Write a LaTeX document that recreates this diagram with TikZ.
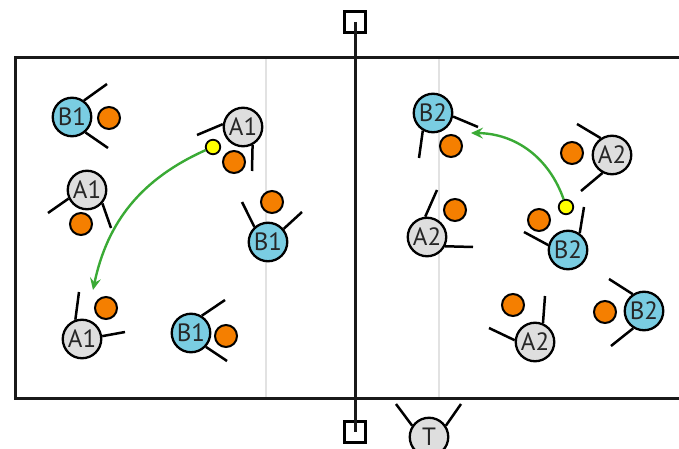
\documentclass[tikz,border=0pt]{standalone}
\usepackage{fontspec}
\setmainfont{PT Sans}
\usetikzlibrary{arrows.meta}
\definecolor{pblue}{RGB}{122,205,226}
\definecolor{pgrey}{RGB}{222,222,222}
\definecolor{borange}{RGB}{245,127,0}
\definecolor{byellow}{RGB}{255,255,0}
\definecolor{pgreen}{RGB}{58,170,53}
\definecolor{attack}{RGB}{226,226,226}
\begin{document}
\begin{tikzpicture}[x=1pt,y=-1pt,
  player/.style={circle,draw=black,line width=2.3pt,minimum size=38.5pt,inner sep=0pt,
    font=\fontsize{25}{25}\selectfont,text=black!85},
  pA/.style={player,fill=pgrey},
  pB/.style={player,fill=pblue},
  ball/.style={circle,draw=black,line width=2pt,fill=borange,minimum size=22pt,inner sep=0pt},
  yball/.style={circle,draw=black,line width=1.8pt,fill=byellow,minimum size=14.5pt,inner sep=0pt},
  arm/.style={line width=2.5pt,draw=black},
  pass/.style={draw=pgreen,line width=2.4pt,-{Stealth[length=12pt,width=11pt,inset=4.5pt]}},
  court/.style={line width=3pt,draw=black!90},
  attackline/.style={line width=1.6pt,draw=attack},
  post/.style={rectangle,draw=black,line width=2.6pt,fill=white,minimum size=21.5pt,inner sep=0pt}]
\useasboundingbox (0,0) rectangle (679,449);
\clip (0,0) rectangle (679,449);
% court
\draw[attackline] (266,58) -- (266,398);
\draw[attackline] (439,58) -- (439,398);
\draw[court] (15,58) rectangle (720,398);
% net
\node[post] (ptop) at (355,22) {};
\node[post] (pbot) at (355,432) {};
\draw[court] (ptop.center) -- (pbot.center);
% ---- left half ----
\node[pB] (p1) at (72,117) {B1};
\node[ball] (k1) at (109,118) {};
\draw[arm] (p1.54) -- (107,84);
\draw[arm] (p1.-49) -- (108,148);

\node[pA] (p2) at (243,127) {A1};
\node[ball] (k2) at (234,162) {};
\node[yball] (y1) at (213,147) {};
\draw[arm] (p2.172) -- (197,135);
\draw[arm] (p2.-62) -- (252,171);

\node[pA] (p3) at (87,190) {A1};
\node[ball] (k3) at (81,224) {};
\draw[arm] (p3.205) -- (48,213);
\draw[arm] (p3.-41) -- (111,228);

\node[pB] (p4) at (268,242) {B1};
\node[ball] (k4) at (272,202) {};
\draw[arm] (p4.132) -- (242,202);
\draw[arm] (p4.40) -- (302,212);

\node[pA] (p5) at (82,339) {A1};
\node[ball] (k5) at (106,308) {};
\draw[arm] (p5.109) -- (79,292);
\draw[arm] (p5.8) -- (125,332);

\node[pB] (p6) at (191,333) {B1};
\node[ball] (k6) at (226,336) {};
\draw[arm] (p6.58) -- (225,300);
\draw[arm] (p6.-43) -- (227,361);

\coordinate (t1) at (93,290);
\draw[pass] (y1) to[bend right=27] (t1);
% ---- right half ----
\node[pB] (p7) at (433,113) {B2};
\node[ball] (k7) at (451,146) {};
\draw[arm] (p7.-10) -- (478,127);
\draw[arm] (p7.240) -- (419,158);

\node[pA] (p8) at (612,155) {A2};
\node[ball] (k8) at (572,153) {};
\draw[arm] (p8.124) -- (577,124);
\draw[arm] (p8.242) -- (581,191);

\node[pB] (p9) at (568,250) {B2};
\node[ball] (k9) at (539,220) {};
\node[yball] (y2) at (566,207) {};
\draw[arm] (p9.55) -- (584,207);
\draw[arm] (p9.166) -- (524,232);

\node[pA] (p10) at (427,237) {A2};
\node[ball] (k10) at (455,210) {};
\draw[arm] (p10.95) -- (437,190);
\draw[arm] (p10.-27) -- (473,247);

\node[pA] (p11) at (535,342) {A2};
\node[ball] (k11) at (513,305) {};
\draw[arm] (p11.67) -- (545,296);
\draw[arm] (p11.175) -- (489,328);

\node[pB] (p12) at (644,311) {B2};
\node[ball] (k12) at (605,312) {};
\draw[arm] (p12.124) -- (609,279);
\draw[arm] (p12.238) -- (611,346);

\coordinate (t2) at (471,133);
\draw[pass] (y2) to[bend right=35] (t2);
% ---- referee ----
\node[pA] (pt) at (429,437) {T};
\draw[arm] (pt.146) -- (396,404);
\draw[arm] (pt.34) -- (461,404);
\end{tikzpicture}
\end{document}
